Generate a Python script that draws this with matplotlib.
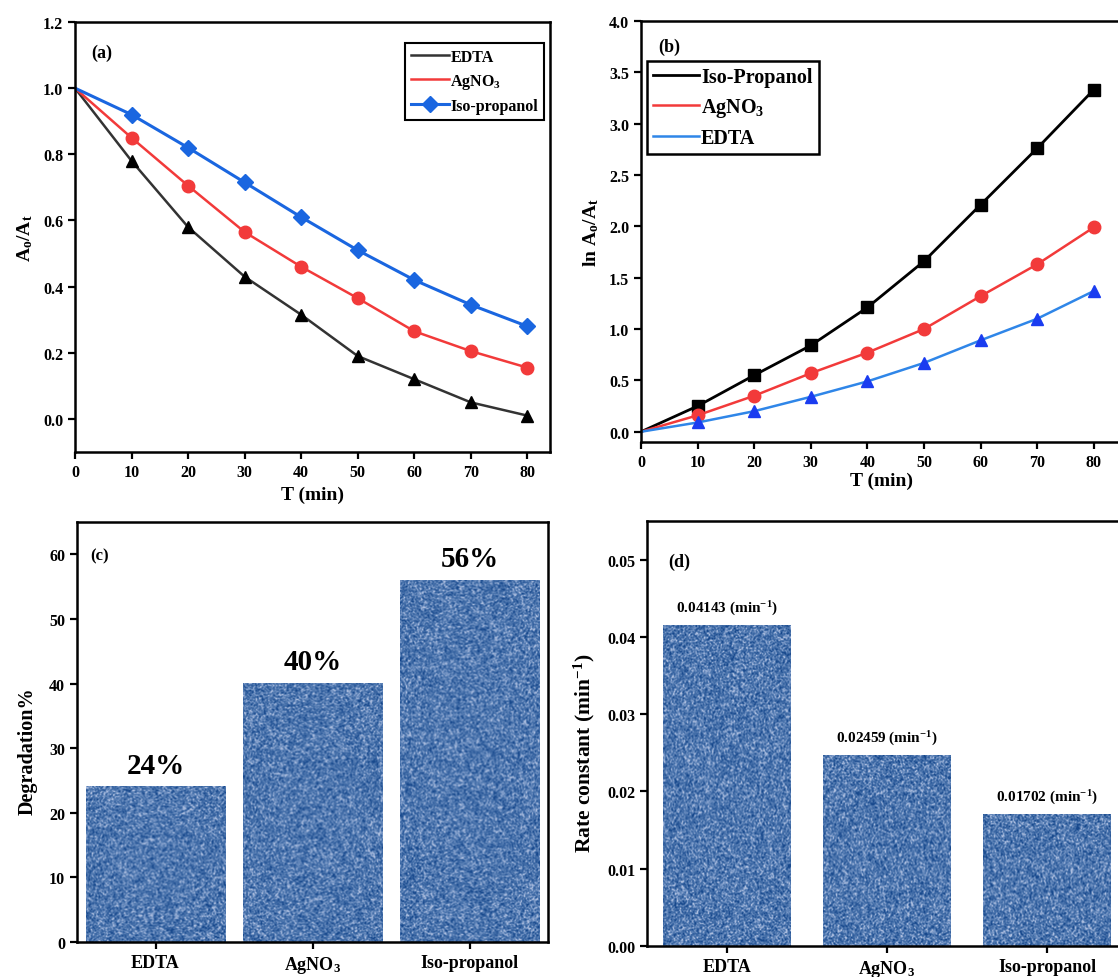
import numpy as np
import matplotlib
matplotlib.use("Agg")
import matplotlib.pyplot as plt
from matplotlib.colors import LinearSegmentedColormap

plt.rcParams["font.family"] = ["Liberation Serif", "DejaVu Serif"]
plt.rcParams["font.weight"] = "bold"
plt.rcParams["axes.labelweight"] = "bold"
plt.rcParams["mathtext.default"] = "regular"

# ---- data ----
time_min = [0, 10, 20, 30, 40, 50, 60, 70, 80]

ratio_edta = [1.0, 0.78, 0.58, 0.43, 0.315, 0.19, 0.12, 0.05, 0.01]
ratio_agno3 = [1.0, 0.85, 0.705, 0.565, 0.46, 0.365, 0.265, 0.205, 0.155]
ratio_iso = [1.0, 0.92, 0.82, 0.715, 0.61, 0.51, 0.42, 0.345, 0.28]

ln_iso = [0.0, 0.25, 0.55, 0.84, 1.21, 1.66, 2.21, 2.76, 3.33]
ln_agno3 = [0.0, 0.16, 0.35, 0.57, 0.77, 1.00, 1.32, 1.63, 1.99]
ln_edta = [0.0, 0.09, 0.20, 0.34, 0.49, 0.67, 0.89, 1.10, 1.37]

scavengers = ["EDTA", "AgNO$_3$", "Iso-propanol"]
degradation = [24, 40, 56]
degradation_labels = ["24%", "40%", "56%"]
rate_constant = [0.04143, 0.02459, 0.01702]
rate_labels = ["0.04143 (min$^{-1}$)", "0.02459 (min$^{-1}$)", "0.01702 (min$^{-1}$)"]

W, H = 1118, 978
fig = plt.figure(figsize=(W / 100, H / 100), dpi=100)


def px_axes(left, right, top, bottom):
    return fig.add_axes([left / W, 1 - bottom / H, (right - left) / W, (bottom - top) / H])


def style_axes(ax, size=11.5):
    for s in ax.spines.values():
        s.set_linewidth(1.8)
    ax.tick_params(direction="out", length=5, width=1.6, labelsize=size,
                   top=False, right=False)
    for lab in ax.get_xticklabels() + ax.get_yticklabels():
        lab.set_fontweight("bold")


RED = "#f23a3a"
BLUE = "#1a66e0"

# ---- (a) A/A0 vs time ----
ax_a = px_axes(75, 550, 23, 453)
every = slice(1, None)
ax_a.plot(time_min, ratio_edta, color="#333333", lw=1.8, marker="^", ms=9,
          mfc="black", mec="black", markevery=every, label="EDTA")
ax_a.plot(time_min, ratio_agno3, color=RED, lw=1.8, marker="o", ms=9,
          mfc=RED, mec=RED, markevery=every, label="AgNO$_3$")
ax_a.plot(time_min, ratio_iso, color=BLUE, lw=2.2, marker="D", ms=8,
          mfc=BLUE, mec=BLUE, markevery=every, label="Iso-propanol")
ax_a.set_xlim(0, 84)
ax_a.set_ylim(-0.1, 1.2)
ax_a.set_xticks(range(0, 81, 10))
ax_a.set_yticks(np.arange(0, 1.21, 0.2))
ax_a.yaxis.set_major_formatter(matplotlib.ticker.FormatStrFormatter("%.1f"))
ax_a.set_xlabel("T (min)", fontsize=14, labelpad=4)
ax_a.set_ylabel("A$_o$/A$_t$", fontsize=14, labelpad=6)
ax_a.text(0.035, 0.95, "(a)", transform=ax_a.transAxes, fontsize=13,
          fontweight="bold", va="top")
handles, labels = ax_a.get_legend_handles_labels()
leg = ax_a.legend(handles, labels, loc="upper right", bbox_to_anchor=(0.987, 0.951),
                  borderaxespad=0, fancybox=False, edgecolor="black",
                  fontsize=11.5, handlelength=2.4, handletextpad=0.1,
                  labelspacing=0.45, borderpad=0.35, framealpha=1)
leg.get_frame().set_linewidth(1.5)
for h in leg.legend_handles[:2]:
    h.set_marker("")
style_axes(ax_a)

# ---- (b) ln(A0/A) vs time ----
ax_b = px_axes(641, 1122, 22, 443)
ax_b.plot(time_min, ln_iso, color="black", lw=2.0, marker="s", ms=8,
          mfc="black", mec="black", markevery=every, label="Iso-Propanol")
ax_b.plot(time_min, ln_agno3, color=RED, lw=1.8, marker="o", ms=9,
          mfc=RED, mec=RED, markevery=every, label="AgNO$_3$")
ax_b.plot(time_min, ln_edta, color="#2f86e8", lw=1.8, marker="^", ms=9,
          mfc="#1a3cf0", mec="#1a3cf0", markevery=every, label="EDTA")
ax_b.set_xlim(0, 85)
ax_b.set_ylim(-0.1, 4.0)
ax_b.set_xticks(range(0, 81, 10))
ax_b.set_yticks(np.arange(0, 4.01, 0.5))
ax_b.yaxis.set_major_formatter(matplotlib.ticker.FormatStrFormatter("%.1f"))
ax_b.set_xlabel("T (min)", fontsize=14, labelpad=1)
ax_b.set_ylabel("ln A$_o$/A$_t$", fontsize=14, labelpad=6)
ax_b.text(0.035, 0.96, "(b)", transform=ax_b.transAxes, fontsize=13,
          fontweight="bold", va="top")
leg_b = ax_b.legend(loc="upper left", bbox_to_anchor=(0.012, 0.905),
                    borderaxespad=0, fancybox=False, edgecolor="black",
                    fontsize=14.5, handlelength=2.3, handletextpad=0.1,
                    labelspacing=0.45, borderpad=0.3, framealpha=1)
leg_b.get_frame().set_linewidth(1.8)
for h in leg_b.legend_handles:
    h.set_marker("")
style_axes(ax_b)

# ---- speckled texture for bar fills ----
tex_cmap = LinearSegmentedColormap.from_list(
    "speckle", ["#17488c", "#3562a0", "#4d76ae", "#7494c4", "#aebfdf"])


def speckle_fill(ax, bars, seed, px_per_x, px_per_y):
    rng = np.random.default_rng(seed)
    for b in bars:
        x0, y0, w, h = b.get_x(), b.get_y(), b.get_width(), b.get_height()
        nx = max(int(w * px_per_x), 2)
        ny = max(int(h * px_per_y), 2)
        field = rng.random((ny + 3, nx + 3))
        sm = np.zeros((ny, nx))
        for dy in range(2):
            for dx in range(2):
                sm += field[dy:dy + ny, dx:dx + nx]
        sm /= 4.0
        sm = (sm - sm.mean()) / sm.std()
        ax.imshow(sm, cmap=tex_cmap, vmin=-2.4, vmax=2.4, extent=(x0, x0 + w, y0, y0 + h),
                  aspect="auto", interpolation="bilinear", zorder=2, origin="lower")
        b.set_visible(False)


# ---- (c) degradation percentage ----
ax_c = px_axes(77, 548, 523, 943)
xpos = np.arange(len(scavengers))
bars_c = ax_c.bar(xpos, degradation, width=0.89, color="#4f78b0", zorder=2)
ax_c.set_xlim(-0.5, 2.5)
ax_c.set_ylim(0, 65)
speckle_fill(ax_c, bars_c, 3, 157, 420 / 65)
ax_c.set_xlim(-0.5, 2.5)
ax_c.set_ylim(0, 65)
ax_c.set_xticks(xpos)
ax_c.set_xticklabels(scavengers)
ax_c.set_yticks(range(0, 61, 10))
for xi, v, t in zip(xpos, degradation, degradation_labels):
    ax_c.text(xi, v + 1.3, t, ha="center", va="bottom", fontsize=21, fontweight="bold")
ax_c.set_ylabel("Degradation%", fontsize=14.5)
ax_c.yaxis.set_label_coords(-0.083, 0.457)
ax_c.text(0.028, 0.94, "(c)", transform=ax_c.transAxes, fontsize=12,
          fontweight="bold", va="top")
style_axes(ax_c)
ax_c.tick_params(axis="x", labelsize=13)

# ---- (d) rate constants ----
ax_d = px_axes(647, 1127, 522, 947)
bars_d = ax_d.bar(xpos, rate_constant, width=0.8, color="#4f78b0", zorder=2)
ax_d.set_xlim(-0.5, 2.5)
ax_d.set_ylim(0, 0.055)
speckle_fill(ax_d, bars_d, 7, 160, 425 / 0.055)
ax_d.set_xlim(-0.5, 2.5)
ax_d.set_ylim(0, 0.055)
ax_d.set_xticks(xpos)
ax_d.set_xticklabels(scavengers)
ax_d.set_yticks(np.arange(0, 0.051, 0.01))
ax_d.yaxis.set_major_formatter(matplotlib.ticker.FormatStrFormatter("%.2f"))
for xi, v, t in zip(xpos, rate_constant, rate_labels):
    ax_d.text(xi, v + 0.0011, t, ha="center", va="bottom", fontsize=11, fontweight="bold")
ax_d.set_ylabel("Rate constant (min$^{-1}$)", fontsize=15.5)
ax_d.yaxis.set_label_coords(-0.104, 0.456)
ax_d.text(0.045, 0.925, "(d)", transform=ax_d.transAxes, fontsize=13,
          fontweight="bold", va="top")
style_axes(ax_d)
ax_d.tick_params(axis="x", labelsize=13)

fig.savefig("out.png", dpi=100)
